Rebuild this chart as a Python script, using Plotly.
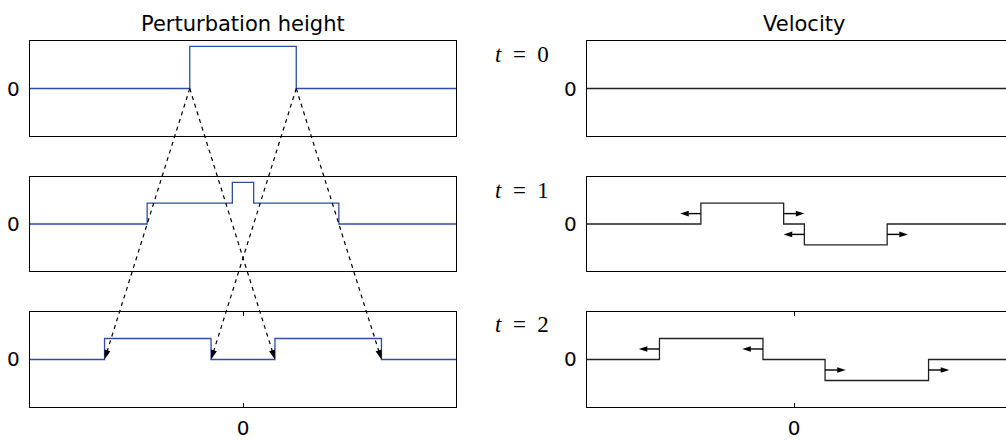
import plotly.graph_objects as go

# ---- data -------------------------------------------------------------
# step profiles: breakpoints and the level that holds from each breakpoint on
height_x = {
    0: [-1.0, -0.25, 0.25, 1.0],
    1: [-1.0, -0.45, -0.05, 0.05, 0.45, 1.0],
    2: [-1.0, -0.65, -0.15, 0.15, 0.65, 1.0],
}
height_y = {
    0: [0.0, 1.0, 0.0, 0.0],
    1: [0.0, 0.5, 1.0, 0.5, 0.0, 0.0],
    2: [0.0, 0.5, 0.0, 0.5, 0.0, 0.0],
}
vel_x = {
    0: [-1.0, 1.024],
    1: [-1.0, -0.45, -0.05, 0.05, 0.45, 1.024],
    2: [-1.0, -0.65, -0.15, 0.15, 0.65, 1.024],
}
vel_y = {
    0: [0.0, 0.0],
    1: [0.0, 0.5, 0.0, -0.5, 0.0, 0.0],
    2: [0.0, 0.5, 0.0, -0.5, 0.0, 0.0],
}
# travelling fronts in the velocity panels: (start x, level, direction)
front_x = {1: [-0.45, -0.05, 0.05, 0.45], 2: [-0.65, -0.15, 0.15, 0.65]}
front_y = {1: [0.25, 0.25, -0.25, -0.25], 2: [0.25, 0.25, -0.25, -0.25]}
front_dir = {1: [-1, 1, -1, 1], 2: [-1, -1, 1, 1]}
front_len = 0.1
# characteristics: edge at t=0 -> its two images at t=2
char_start = [-0.25, -0.25, 0.25, 0.25]
char_end = [-0.65, 0.15, -0.15, 0.65]

time_labels = ["0", "1", "2"]
col_titles = ["Perturbation height", "Velocity"]

# ---- layout geometry --------------------------------------------------
W, H = 1006, 441
ML, MR, MT, MB = 30, 0, 41, 34
left_dom = [0.0, 0.43648]
right_dom = [0.5707, 1.0]
row_dom = [[0.7404, 1.0], [0.3716, 0.6284], [0.0, 0.2596]]
yrange = [-1.13, 1.13]
left_xrange = [-1.0, 1.0]
right_xrange = [-1.0, 1.024]

BLUE = "#2e4ea6"
INK = "black"
SANS = "DejaVu Sans"
SERIF = "Liberation Serif"

fig = go.Figure()
layout = dict(
    width=W, height=H, margin=dict(l=ML, r=MR, t=MT, b=MB),
    paper_bgcolor="white", plot_bgcolor="rgba(0,0,0,0)", showlegend=False,
    font=dict(family=SANS, size=20, color="black"),
)


def axis_pair(idx, xdom, xrng, ydom, bottom, mirror_y):
    sx = "" if idx == 1 else str(idx)
    xa = dict(domain=xdom, range=xrng, anchor="y" + sx, showline=True,
              linecolor="black", linewidth=1.3, mirror="ticks" if bottom else True,
              showgrid=False, zeroline=False,
              tickvals=[0], ticktext=["0"],
              ticks="inside" if bottom else "", ticklen=4, tickcolor="black",
              showticklabels=bottom, ticklabelstandoff=3,
              tickfont=dict(family=SANS, size=20))
    ya = dict(domain=ydom, range=yrange, anchor="x" + sx, showline=True,
              linecolor="black", linewidth=1.3, mirror=mirror_y,
              showgrid=False, zeroline=False, tickvals=[0], ticktext=["0"],
              ticks="", ticklabelstandoff=5,
              tickfont=dict(family=SANS, size=20))
    layout["xaxis" + sx] = xa
    layout["yaxis" + sx] = ya
    return "x" + sx, "y" + sx


annotations = []
for r in range(3):
    bottom = r == 2
    lx, ly = axis_pair(2 * r + 1, left_dom, left_xrange, row_dom[r], bottom, True)
    rx, ry = axis_pair(2 * r + 2, right_dom, right_xrange, row_dom[r], bottom, False)

    fig.add_trace(go.Scatter(x=height_x[r], y=height_y[r], mode="lines",
                             line=dict(color=BLUE, width=1.3, shape="hv"),
                             xaxis=lx, yaxis=ly, hoverinfo="skip"))
    fig.add_trace(go.Scatter(x=vel_x[r], y=vel_y[r], mode="lines",
                             line=dict(color="#222222", width=1.3, shape="hv"),
                             xaxis=rx, yaxis=ry, hoverinfo="skip"))
    if r in front_x:
        for fx, fy, d in zip(front_x[r], front_y[r], front_dir[r]):
            fig.add_trace(go.Scatter(
                x=[fx, fx + d * front_len], y=[fy, fy], mode="lines+markers",
                line=dict(color=INK, width=1.4),
                marker=dict(symbol="arrow", size=[0, 9], angleref="previous",
                            color=INK, opacity=1, line=dict(width=0)),
                xaxis=rx, yaxis=ry, hoverinfo="skip"))

    annotations.append(dict(
        text="<i>t</i>&nbsp;&nbsp;=&nbsp;&nbsp;" + time_labels[r],
        xref="paper", yref=ry + " domain", x=0.504, y=1.0,
        xanchor="center", yanchor="middle", yshift=-13, showarrow=False,
        font=dict(family=SERIF, size=23, color="black")))

# overlay covering the whole left column, y in paper units, for the
# dashed characteristics that cross between panels
layout["xaxis7"] = dict(domain=left_dom, range=left_xrange, anchor="y7", visible=False)
layout["yaxis7"] = dict(domain=[0, 1], range=[0, 1], anchor="x7", visible=False)


def zero_level(dom):
    return dom[0] + (0 - yrange[0]) / (yrange[1] - yrange[0]) * (dom[1] - dom[0])


y_top = zero_level(row_dom[0])
y_bot = zero_level(row_dom[2])
for xs, xe in zip(char_start, char_end):
    fig.add_trace(go.Scatter(
        x=[xs, xe], y=[y_top, y_bot], mode="lines+markers",
        line=dict(color="black", width=1.2, dash="4px,4px"),
        marker=dict(symbol="arrow", size=[0, 10], angleref="previous",
                    color="black", opacity=1, line=dict(width=0)),
        xaxis="x7", yaxis="y7", hoverinfo="skip"))

annotations.append(dict(text=col_titles[0], xref="paper", yref="paper",
                        x=sum(left_dom) / 2, y=1.0, xanchor="center",
                        yanchor="bottom", yshift=3, showarrow=False,
                        font=dict(family=SANS, size=21)))
annotations.append(dict(text=col_titles[1], xref="paper", yref="paper",
                        x=0.793, y=1.0, xanchor="center",
                        yanchor="bottom", yshift=3, showarrow=False,
                        font=dict(family=SANS, size=21)))
layout["annotations"] = annotations

fig.update_layout(**layout)
fig.write_html("out.html")
